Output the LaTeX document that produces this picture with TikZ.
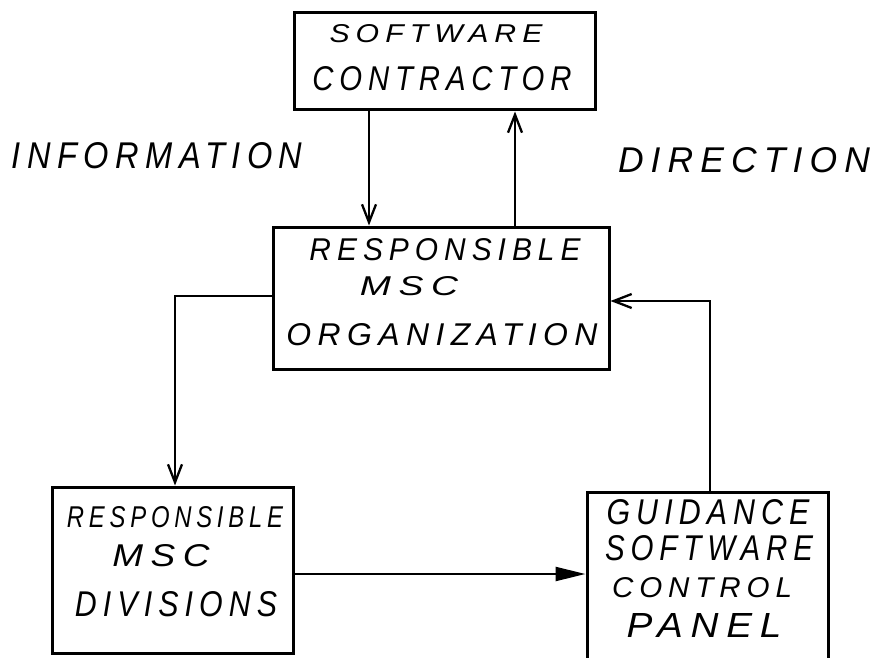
\documentclass[tikz,border=0pt]{standalone}
\usepackage{fontspec}
\usepackage{graphicx}
\newfontfamily\handfont{Liberation Sans}[LetterSpace=20]
\usetikzlibrary{arrows.meta}
\newcommand{\handtext}[3]{\resizebox{#1pt}{#2pt}{\handfont\itshape #3}}
\begin{document}
\begin{tikzpicture}[x=1pt,y=-1pt,
  box/.style={draw,line width=3pt,inner sep=0pt},
  lbl/.style={inner sep=0pt},
  conn/.style={line width=2.3pt},
  vhead/.style={-{Straight Barb[length=18pt,width=14pt,line width=2.3pt]}},
  fhead/.style={-{Triangle[length=30pt,width=14pt]}}]
\useasboundingbox (0,0) rectangle (875,658);
% boxes
\node[box,minimum width=301pt,minimum height=97pt] (b1) at (444.5,61.5) {};
\node[box,minimum width=336pt,minimum height=142pt] (b2) at (441,298) {};
\node[box,minimum width=241pt,minimum height=166pt] (b3) at (172.5,570) {};
\node[box,minimum width=241pt,minimum height=169pt] (b4) at (707.5,576.5) {};
% box texts
\node[lbl] (t1a) at (436,34) {\handtext{213}{18}{SOFTWARE}};
\node[lbl] (t1b) at (442,79) {\handtext{259}{24}{CONTRACTOR}};
\node[lbl] (t2a) at (445,250) {\handtext{271}{22}{RESPONSIBLE}};
\node[lbl] (t2b) at (409,286) {\handtext{98}{19}{MSC}};
\node[lbl] (t2c) at (442,335) {\handtext{311}{22}{ORGANIZATION}};
\node[lbl] (t3a) at (175,517) {\handtext{216}{21}{RESPONSIBLE}};
\node[lbl] (t3b) at (161,556) {\handtext{97}{22}{MSC}};
\node[lbl] (t3c) at (176,604) {\handtext{202}{25}{DIVISIONS}};
\node[lbl] (t4a) at (708,512) {\handtext{203}{25}{GUIDANCE}};
\node[lbl] (t4b) at (709,548) {\handtext{208}{25}{SOFTWARE}};
\node[lbl] (t4c) at (702,588) {\handtext{180}{20}{CONTROL}};
\node[lbl] (t4d) at (704,625) {\handtext{155}{24}{PANEL}};
% side labels
\node[lbl] (info) at (157,156) {\handtext{291}{26}{INFORMATION}};
\node[lbl] (dir) at (744,160) {\handtext{252}{25}{DIRECTION}};
% helper coordinates
\coordinate (xa) at (369,0);
\coordinate (xb) at (515,0);
\coordinate (xl) at (175,0);
\coordinate (yl) at (0,296);
\coordinate (yh) at (0,574);
\coordinate (xr) at (710,0);
\coordinate (yr) at (0,301);
% connectors
\draw[conn,vhead] (b1.south -| xa) -- (b2.north -| xa);
\draw[conn,vhead] (b2.north -| xb) -- (b1.south -| xb);
\draw[conn,vhead] (b2.west |- yl) -| (b3.north -| xl);
\draw[conn,fhead] (b3.east |- yh) -- (b4.west |- yh);
\draw[conn,vhead] (b4.north -| xr) |- (b2.east |- yr);
\end{tikzpicture}
\end{document}
